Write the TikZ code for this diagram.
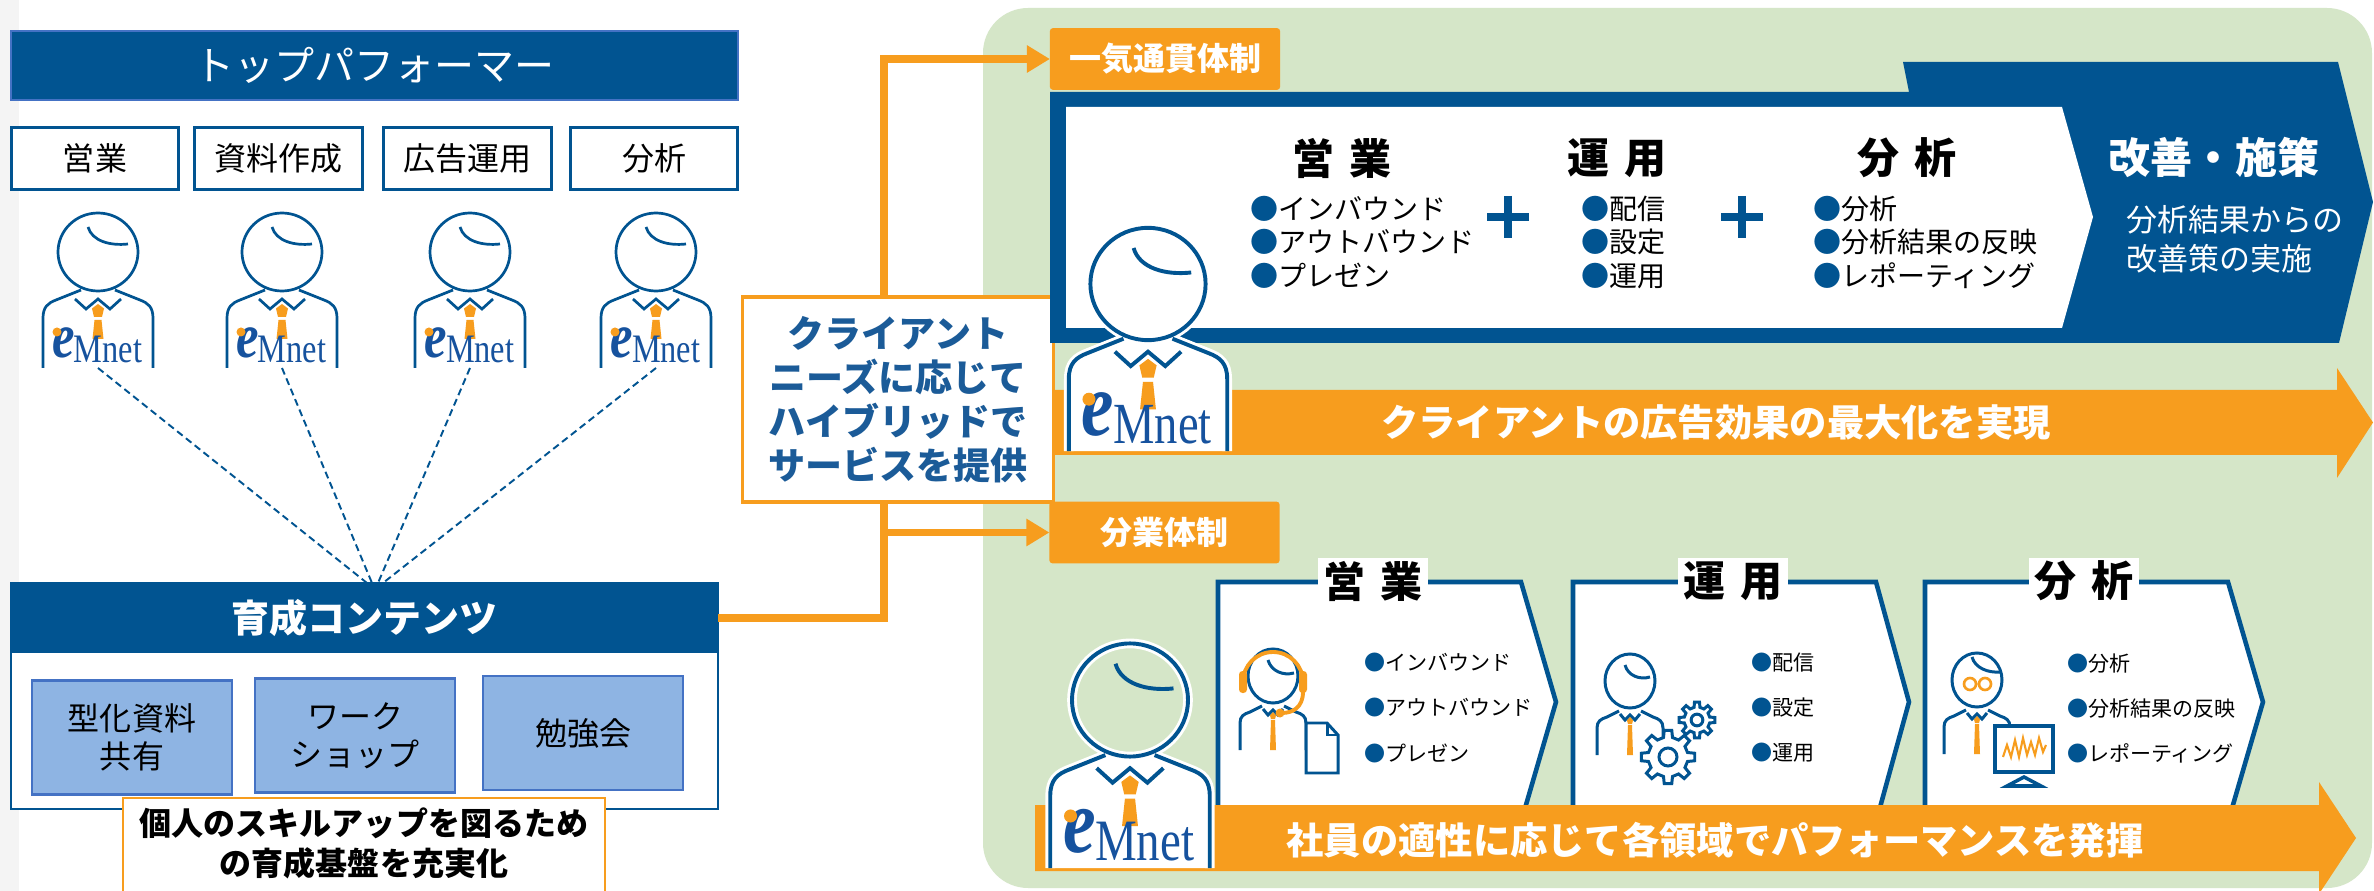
\documentclass[tikz,border=0pt]{standalone}
\usepackage{fontspec}
\setmainfont{Noto Sans CJK JP}
\newfontfamily\logofont{Liberation Serif}
\usetikzlibrary{arrows.meta}

\definecolor{navy}{RGB}{1,84,145}
\definecolor{eorange}{RGB}{247,157,30}
\definecolor{bggreen}{RGB}{213,230,200}
\definecolor{lblue}{RGB}{142,180,227}
\definecolor{mblue}{RGB}{68,114,196}
\definecolor{cblue}{RGB}{27,91,152}
\definecolor{logoblue}{RGB}{22,82,158}
\definecolor{stripgray}{RGB}{244,244,244}

\newcommand\fsz[1]{\fontsize{#1}{#1}\selectfont}
\newcommand\fszl[2]{\fontsize{#1}{#2}\selectfont}
\newcommand\bul{{\color{navy}●}}

\tikzset{
  every node/.style={inner sep=0pt, outer sep=0pt},
  rolebox/.style={draw=navy, line width=0.85pt, fill=white, minimum width=1.67cm, minimum height=0.61cm, font=\fsz{9.1pt}},
  ibox/.style={fill=lblue, draw=mblue, line width=0.7pt, minimum width=2cm, minimum height=1.14cm, align=center, font=\fszl{9.1pt}{10.7pt}},
  tag/.style={fill=eorange, rounded corners=0.8pt, minimum width=2.3cm, minimum height=0.615cm, text=white, font=\bfseries\fsz{9.1pt}},
  oline/.style={draw=eorange, line width=2.2pt},
  otip/.style={-{Triangle[length=0.23cm,width=0.26cm]}},
  dline/.style={draw=navy, line width=0.55pt, dash pattern=on 2pt off 1.2pt},
  panel/.style={draw=navy, line width=1.3pt, fill=white},
  phead/.style={fill=white, minimum width=1.1cm, minimum height=0.46cm, font=\bfseries\fsz{11.95pt}},
  tophead/.style={font=\bfseries\fsz{11.95pt}},
  toplist/.style={anchor=west, align=left, font=\fszl{7.97pt}{9.53pt}},
  botlist/.style={anchor=west, align=left, font=\fszl{5.98pt}{12.8pt}},
  bandtext/.style={text=white, font=\bfseries\fsz{10.6pt}},
  iconline/.style={draw=navy, line width=0.85pt},
}

% staff figure with the company logo: name, x, y (head centre), scale, head fill
\newcommand\emperson[5]{%
  \pgfmathsetmacro\plw{0.77*#4}%
  \pgfmathsetmacro\phw{1.9*#4}%
  \pgfmathsetmacro\esz{18*#4}%
  \pgfmathsetmacro\msz{11.5*#4}%
  \begin{scope}[shift={(#2,#3)}, scale=#4]
    \fill[white] (-55,116) -- (-55,66) .. controls (-55,55) and (-50,51) .. (-42,48) -- (-17,38)
       -- (17,38) -- (42,48) .. controls (50,51) and (55,55) .. (55,66) -- (55,116) -- cycle;
    \draw[white, line width=\phw pt] (-55,116) -- (-55,66) .. controls (-55,55) and (-50,51) .. (-42,48) -- (-17,38)
       (17,38) -- (42,48) .. controls (50,51) and (55,55) .. (55,66) -- (55,116)
       (0,0) ellipse[x radius=40, y radius=39];
    \path[fill=#5] (0,0) ellipse[x radius=40, y radius=39];
    \draw[navy, line width=\plw pt] (-55,116) -- (-55,66) .. controls (-55,55) and (-50,51) .. (-42,48) -- (-17,38)
       (17,38) -- (42,48) .. controls (50,51) and (55,55) .. (55,66) -- (55,116)
       (0,0) ellipse[x radius=40, y radius=39];
    \draw[navy, line width=\plw pt] (-10,-25) .. controls (-6,-11) and (12,-6) .. (30,-8);
    \draw[navy, line width=\plw pt] (-23,47) -- (-12,57) -- (0,47) -- (12,57) -- (23,47);
    \fill[eorange] (0,52) -- (6,56.5) -- (4,65) -- (-4,65) -- (-6,56.5) -- cycle;
    \fill[eorange] (-3.5,68) -- (3.5,68) -- (5.5,87) -- (-5.5,87) -- cycle;
    \node[anchor=base west, text=logoblue, xscale=0.8,
          font=\logofont\bfseries\itshape\fontsize{\esz pt}{\esz pt}\selectfont] (#1-e) at (-46,105) {e};
    \node[anchor=base west, text=logoblue, xscale=0.8,
          font=\logofont\fontsize{\msz pt}{\msz pt}\selectfont] (#1-m) at (-24,111) {Mnet};
    \fill[eorange] (-41,80) circle[radius=4.5];
    \coordinate (#1-foot) at (0,116);
  \end{scope}}

% small line-art staff figure used in the panels
\newcommand\minip[3]{%
  \begin{scope}[shift={(#2,#3)}]
    \draw[iconline] (-33,74) -- (-33,47) .. controls (-33,40) and (-29,38) .. (-23,36) -- (-11,30);
    \draw[iconline] (11,30) -- (23,36) .. controls (29,38) and (33,40) .. (33,47) -- (33,74);
    \draw[iconline] (0,0) ellipse[x radius=25, y radius=27];
    \draw[iconline] (-10,33) -- (-5,39) -- (0,34) -- (5,39) -- (10,33);
    \fill[eorange] (0,36) -- (3,39.5) -- (2,43) -- (-2,43) -- (-3,39.5) -- cycle;
    \fill[eorange] (-2,44) -- (2,44) -- (3,74) -- (-3,74) -- cycle;
    \coordinate (#1) at (0,0);
  \end{scope}}

% gear: name, x, y, root radius, tip radius
\newcommand\gearicon[5]{%
  \begin{scope}[shift={(#2,#3)}]
    \draw[iconline, fill=white] (-13:#4) \foreach \a in {0,45,...,315}{ -- (\a-8:#5) -- (\a+8:#5) -- (\a+13:#4) -- (\a+32:#4) } -- cycle;
    \draw[iconline] (0,0) circle[radius=#4*0.45];
    \coordinate (#1) at (0,0);
  \end{scope}}

\begin{document}
\begin{tikzpicture}[x=0.01cm, y=-0.01cm]
\useasboundingbox (0,0) rectangle (2374,891);
\fill[white] (0,0) rectangle (2374,891);
\fill[stripgray] (0,0) rectangle (19,891);

% ---------- top performers ----------
\node[fill=navy, draw=mblue, line width=0.6pt, minimum width=7.27cm, minimum height=0.69cm,
      text=white, font=\fsz{11.38pt}] (top) at (374.5,65.5) {トップパフォーマー};
\node[rolebox] (r1) at (95,158.5) {営業};
\node[rolebox] (r2) at (278.5,158.5) {資料作成};
\node[rolebox] (r3) at (467.5,158.5) {広告運用};
\node[rolebox] (r4) at (654,158.5) {分析};

\emperson{pa}{98}{252}{1}{white}
\emperson{pb}{282}{252}{1}{white}
\emperson{pc}{470}{252}{1}{white}
\emperson{pd}{656}{252}{1}{white}

% ---------- training contents ----------
\node[draw=navy, line width=0.6pt, fill=white, minimum width=7.07cm, minimum height=2.26cm] (ybox) at (364.5,696) {};
\node[fill=navy, minimum width=7.07cm, minimum height=0.70cm, text=white,
      font=\bfseries\fsz{10.81pt}] (yhead) at (364.5,618) {育成コンテンツ};
\node[ibox] (i1) at (132,737.5) {型化資料\\共有};
\node[ibox] (i2) at (355,735.5) {ワーク\\ショップ};
\node[ibox] (i3) at (583,733) {勉強会};

\coordinate (j1) at (367,583);
\coordinate (j2) at (372,583);
\coordinate (j3) at (378,583);
\coordinate (j4) at (383,583);
\draw[dline] (pa-foot) -- (j1);
\draw[dline] (pb-foot) -- (j2);
\draw[dline] (pc-foot) -- (j3);
\draw[dline] (pd-foot) -- (j4);

\draw[draw=eorange, line width=0.8pt, fill=white] (123,798) rectangle (605,910);
\node[align=center, font=\bfseries\fszl{9.1pt}{11.38pt}] (skill) at (364,843)
  {個人のスキルアップを図るため\\の育成基盤を充実化};

% ---------- right side ----------
\fill[bggreen, rounded corners=0.45cm] (983,8) rectangle (2372,888);

\node[tag] (lab1) at (1165,59) {一気通貫体制};
\node[tag] (lab2) at (1164.5,532.5) {分業体制};

\coordinate (jn) at (884,618);
\coordinate (br) at (884,532.5);
\draw[oline, otip] (yhead.east) -- (jn) |- (lab1.west);
\draw[oline, otip] (br) -- (lab2.west);

\node[draw=eorange, line width=0.9pt, fill=white, minimum width=3.1cm, minimum height=2.05cm,
      align=center, text=cblue, font=\bfseries\fszl{10.53pt}{12.5pt}] (call) at (898,399.5)
  {クライアント\\ニーズに応じて\\ハイブリッドで\\サービスを提供};

% one-stop block
\fill[navy] (1050,92) -- (1909,92) -- (1903,62) -- (2338,62) -- (2373,202) -- (2339,343) -- (1050,343) -- cycle;
\fill[white] (1066,107) -- (2062,107) -- (2093,217) -- (2062,328) -- (1066,328) -- cycle;

\node[tophead] (th1) at (1342,158) {営\hspace{0.35em}業};
\node[tophead] (th2) at (1617,158) {運\hspace{0.35em}用};
\node[tophead] (th3) at (1907,158) {分\hspace{0.35em}析};
\node[toplist] (tl1) at (1250,242) {\bul インバウンド\\\bul アウトバウンド\\\bul プレゼン};
\node[toplist] (tl2) at (1581,242) {\bul 配信\\\bul 設定\\\bul 運用};
\node[toplist] (tl3) at (1813,242) {\bul 分析\\\bul 分析結果の反映\\\bul レポーティング};
\draw[navy, line width=2.3pt] (1487,217) -- (1529,217) (1508,196) -- (1508,238);
\draw[navy, line width=2.3pt] (1721,217) -- (1763,217) (1742,196) -- (1742,238);

\node[text=white, font=\bfseries\fsz{11.95pt}] (kz) at (2214,157) {改善・施策};
\node[text=white, anchor=west, align=left, font=\fszl{8.82pt}{11.1pt}] (kzs) at (2126,239.5)
  {分析結果からの\\改善策の実施};

\fill[eorange] (1054,390) -- (2337,390) -- (2337,368) -- (2373,422.5) -- (2337,478) -- (2337,455) -- (1054,455) -- cycle;
\node[bandtext] (band1) at (1716,422) {クライアントの広告効果の最大化を実現};

\emperson{pt}{1148}{284}{1.44}{white}

% divided-roles block
\draw[panel] (1218,822) -- (1218,582) -- (1521,582) -- (1556,702) -- (1521,822) -- cycle;
\draw[panel] (1573,822) -- (1573,582) -- (1876,582) -- (1909,702) -- (1876,822) -- cycle;
\draw[panel] (1925,822) -- (1925,582) -- (2228,582) -- (2263,702) -- (2228,822) -- cycle;

\node[phead] (bh1) at (1373,581) {営\hspace{0.35em}業};
\node[phead] (bh2) at (1733,581) {運\hspace{0.35em}用};
\node[phead] (bh3) at (2084,581) {分\hspace{0.35em}析};

\node[botlist] (bl1) at (1364,708) {\bul インバウンド\\\bul アウトバウンド\\\bul プレゼン};
\node[botlist] (bl2) at (1751,708) {\bul 配信\\\bul 設定\\\bul 運用};
\node[botlist] (bl3) at (2067,708) {\bul 分析\\\bul 分析結果の反映\\\bul レポーティング};

% sales icon: headset and document
\minip{ic1}{1273}{676}
\draw[iconline] (1268,660) .. controls (1271,671) and (1283,676) .. (1294,673);
\draw[eorange, line width=1.1pt] (1243,682) arc[start angle=180, end angle=360, radius=30];
\fill[eorange, rounded corners=1pt] (1239,671) rectangle (1247,693);
\fill[eorange, rounded corners=1pt] (1299,671) rectangle (1307,693);
\draw[eorange, line width=1.1pt] (1303,692) .. controls (1303,707) and (1293,713) .. (1282,713);
\fill[eorange] (1280,713) circle[radius=4.5];
\draw[iconline, fill=white] (1306,723) -- (1327,723) -- (1338,735) -- (1338,773) -- (1306,773) -- cycle;
\draw[iconline] (1327,723) -- (1327,735) -- (1338,735);

% operation icon: gears
\minip{ic2}{1630}{681}
\draw[iconline] (1625,665) .. controls (1628,676) and (1640,680) .. (1650,677);
\gearicon{g1}{1697}{720}{13}{18}
\gearicon{g2}{1668}{757}{20}{27}

% analysis icon: glasses and monitor
\minip{ic3}{1977}{680}
\draw[iconline] (1972,657) .. controls (1975,668) and (1988,673) .. (2000,672);
\draw[eorange, line width=0.75pt] (1970,684) circle[radius=6] (1985,684) circle[radius=6];
\draw[navy, line width=1pt, fill=white] (1995,726) rectangle (2053,772);
\draw[eorange, line width=0.6pt] (2003,757) -- (2007,745) -- (2011,757) -- (2015,740) -- (2019,757) -- (2023,738)
   -- (2027,755) -- (2031,742) -- (2035,755) -- (2039,738) -- (2043,752) -- (2046,745);
\draw[navy, line width=1pt, fill=white] (2007,786) -- (2024,777) -- (2041,786) -- cycle;

\fill[eorange] (1035,805) -- (2319,805) -- (2319,782) -- (2356,838) -- (2319,894) -- (2319,871) -- (1035,871) -- cycle;
\node[bandtext] (band2) at (1715,840) {社員の適性に応じて各領域でパフォーマンスを発揮};

\emperson{pw}{1130}{700}{1.45}{none}
\end{tikzpicture}
\end{document}
